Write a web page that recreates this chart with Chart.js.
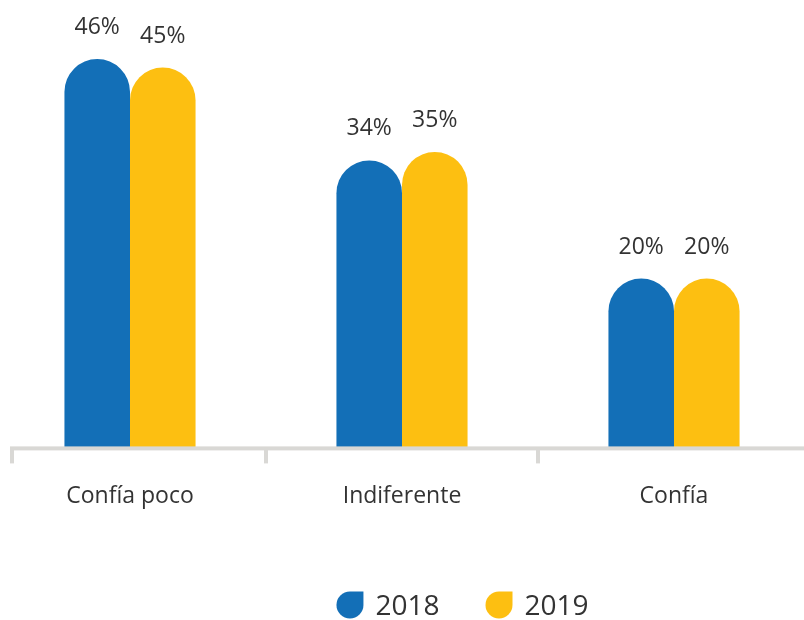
<!DOCTYPE html>
<html lang="es">
<head>
<meta charset="utf-8">
<title>Confianza 2018-2019</title>
<script src="https://cdn.jsdelivr.net/npm/chart.js@4.4.1/dist/chart.umd.min.js"></script>
<style>
    html, body {
        margin: 0;
        padding: 0;
        background: #ffffff;
        overflow: hidden;
    }
    .chart-wrap {
        position: absolute;
        left: -6px;
        top: 0;
        width: 816px;
        height: 620px;
    }
</style>
</head>
<body>
<div class="chart-wrap">
    <canvas id="trustChart"></canvas>
</div>
<script>
// ==========================================
// Data
// ==========================================

const CATEGORIES = ['Confía poco', 'Indiferente', 'Confía'];
const YEARS = ['2018', '2019'];
const VALUES_2018 = [46, 34, 20];
const VALUES_2019 = [45, 35, 20];
const Y_MAX = 53;

const COLORS = ['#136fb7', '#fdbf11'];
const TEXT_COLOR = '#333333';
const AXIS_COLOR = '#d9d8d5';
const FONT_FAMILY = "'Open Sans', Lato, sans-serif";

// ==========================================
// Plugins
// ==========================================

// Gray baseline with small downward ticks at the group boundaries
const baselinePlugin = {
    id: 'baseline',
    afterDatasetsDraw: function(chart) {
        const ctx = chart.ctx;
        const area = chart.chartArea;
        const xScale = chart.scales.x;
        const y = area.bottom;

        ctx.save();
        ctx.fillStyle = AXIS_COLOR;
        ctx.fillRect(area.left + 16, y - 1, area.right - area.left, 4);

        // boundaries between categories, plus one at the line start
        const tickXs = [area.left + 18];
        for (let i = 1; i < CATEGORIES.length; i++) {
            tickXs.push((xScale.getPixelForValue(i - 1) + xScale.getPixelForValue(i)) / 2);
        }
        tickXs.forEach(function(tx) {
            ctx.fillRect(Math.round(tx) - 2, y, 4, 16);
        });
        ctx.restore();
    }
};

// Percentage labels above each bar
const valueLabelPlugin = {
    id: 'valueLabels',
    afterDatasetsDraw: function(chart) {
        const ctx = chart.ctx;
        ctx.save();
        ctx.font = `23px ${FONT_FAMILY}`;
        ctx.fillStyle = TEXT_COLOR;
        ctx.textAlign = 'center';
        ctx.textBaseline = 'alphabetic';
        chart.data.datasets.forEach(function(ds, di) {
            const meta = chart.getDatasetMeta(di);
            meta.data.forEach(function(bar, i) {
                ctx.fillText(ds.data[i] + '%', bar.x, bar.y - 25);
            });
        });
        ctx.restore();
    }
};

// Legend with drop-shaped markers, lined up with the middle group
const legendPlugin = {
    id: 'dropLegend',
    afterDraw: function(chart) {
        const ctx = chart.ctx;
        const size = 27;
        const r = size / 2;
        const centerY = 605;
        const firstBar = chart.getDatasetMeta(0).data[1];
        let x = firstBar.x - firstBar.width / 2;

        ctx.save();
        ctx.font = `28px ${FONT_FAMILY}`;
        ctx.textBaseline = 'alphabetic';
        ctx.textAlign = 'left';
        chart.data.datasets.forEach(function(ds) {
            const top = centerY - r;
            ctx.fillStyle = ds.backgroundColor;
            ctx.beginPath();
            ctx.moveTo(x + r, top);
            ctx.lineTo(x + size, top);
            ctx.lineTo(x + size, top + r);
            ctx.arc(x + r, top + r, r, 0, 1.5 * Math.PI);
            ctx.closePath();
            ctx.fill();

            ctx.fillStyle = TEXT_COLOR;
            ctx.fillText(ds.label, x + size + 12, centerY + 10);
            x += size + 12 + ctx.measureText(ds.label).width + 46;
        });
        ctx.restore();
    }
};

// ==========================================
// Chart
// ==========================================

function buildDataset(label, values, color) {
    return {
        label: label,
        data: values,
        backgroundColor: color,
        borderWidth: 0,
        borderRadius: { topLeft: 40, topRight: 40, bottomLeft: 0, bottomRight: 0 },
        borderSkipped: 'bottom',
        barPercentage: 1.0,
        categoryPercentage: 0.482
    };
}

function initTrustChart() {
    const canvas = document.getElementById('trustChart');
    if (!canvas) return;

    new Chart(canvas, {
        type: 'bar',
        data: {
            labels: CATEGORIES,
            datasets: [
                buildDataset(YEARS[0], VALUES_2018, COLORS[0]),
                buildDataset(YEARS[1], VALUES_2019, COLORS[1])
            ]
        },
        options: {
            responsive: true,
            maintainAspectRatio: false,
            animation: false,
            layout: {
                padding: { left: 0, right: 0, top: 0, bottom: 75 }
            },
            scales: {
                x: {
                    grid: { display: false, drawTicks: false, tickLength: 0 },
                    border: { display: false },
                    ticks: {
                        color: TEXT_COLOR,
                        font: { family: FONT_FAMILY, size: 23 },
                        padding: 35,
                        maxRotation: 0
                    }
                },
                y: {
                    display: false,
                    min: 0,
                    max: Y_MAX
                }
            },
            plugins: {
                legend: { display: false },
                tooltip: { enabled: false }
            }
        },
        plugins: [baselinePlugin, valueLabelPlugin, legendPlugin]
    });
}

document.addEventListener('DOMContentLoaded', initTrustChart);
</script>
</body>
</html>
